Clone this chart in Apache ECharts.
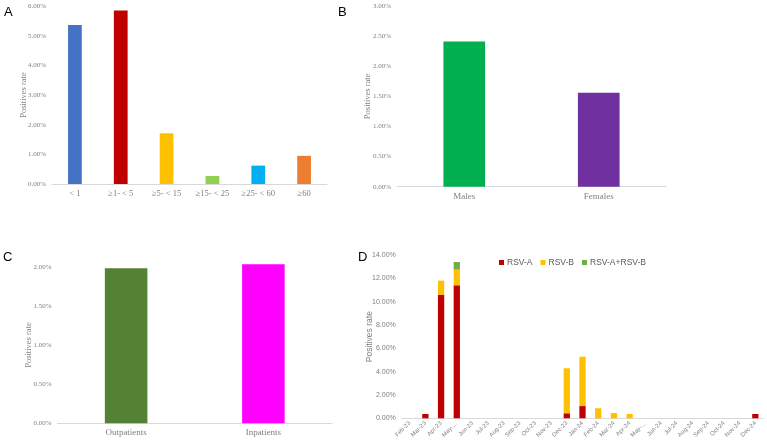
<!DOCTYPE html>
<html><head><meta charset="utf-8">
<script src="https://cdn.jsdelivr.net/npm/echarts@6/dist/echarts.min.js"></script>
<style>html,body{margin:0;padding:0;background:#fff}#c{width:767px;height:444px}</style>
</head><body><div id="c"></div>
<script>
// Panel A: age groups
const ageCats = ['< 1', '≥1- < 5', '≥5- < 15', '≥15- < 25', '≥25- < 60', '≥60'];
const ageRates = [5.36, 5.85, 1.71, 0.27, 0.62, 0.95];
const ageColors = ['#4472C4', '#C00000', '#FFC000', '#92D050', '#00B0F0', '#ED7D31'];
// Panel B: sex
const sexCats = ['Males', 'Females'];
const sexRates = [2.41, 1.56];
const sexColors = ['#00B050', '#7030A0'];
// Panel C: patient type
const patCats = ['Outpatients', 'Inpatients'];
const patRates = [1.98, 2.03];
const patColors = ['#548235', '#FF00FF'];
// Panel D: monthly
const months = ['Feb-23','Mar-23','Apr-23','May-…','Jun-23','Jul-23','Aug-23','Sep-23','Oct-23','Nov-23','Dec-23',
  'Jan-24','Feb-24','Mar-24','Apr-24','May-…','Jun-24','Jul-24','Aug-24','Sep-24','Oct-24','Nov-24','Dec-24'];
const rsvA  = [0, 0.37, 10.6, 11.4, 0,0,0,0,0,0, 0.43, 1.05, 0, 0, 0, 0,0,0,0,0,0,0, 0.37];
const rsvB  = [0, 0, 1.2, 1.35, 0,0,0,0,0,0, 3.86, 4.23, 0.86, 0.45, 0.37, 0,0,0,0,0,0,0, 0];
const rsvAB = [0, 0, 0, 0.65, 0,0,0,0,0,0, 0, 0, 0, 0, 0, 0,0,0,0,0,0,0, 0];
const dSeriesNames = ['RSV-A', 'RSV-B', 'RSV-A+RSV-B'];
const dColors = ['#C00000', '#FFC000', '#70AD47'];

const serif = 'Liberation Serif';
const sans = 'Liberation Sans';
const gray = '#808080';
const lineC = '#D9D9D9';
const pct = v => v.toFixed(2) + '%';

function yAx(grid, max, interval, font, size, gap) {
  return {gridIndex: grid, type: 'value', min: 0, max: max, interval: interval,
    splitLine: {show: false}, axisLine: {show: false}, axisTick: {show: false},
    axisLabel: {formatter: pct, color: gray, fontFamily: font, fontSize: size, margin: 6},
    name: 'Positives rate', nameLocation: 'middle', nameGap: gap, nameMoveOverlap: false,
    nameTextStyle: {color: gray, fontFamily: font, fontSize: 8.5}};
}
function xAx(grid, cats, font, size, extra) {
  return Object.assign({gridIndex: grid, type: 'category', data: cats,
    axisLine: {lineStyle: {color: lineC}}, axisTick: {show: false},
    axisLabel: {color: gray, fontFamily: font, fontSize: size, margin: 5, interval: 0}}, extra || {});
}
function colored(vals, cols) { return vals.map((v, i) => ({value: v, itemStyle: {color: cols[i]}})); }

const chart = echarts.init(document.getElementById('c'));
chart.setOption({
  animation: false,
  title: [
    {text: 'A', left: 4, top: 6}, {text: 'B', left: 338, top: 6},
    {text: 'C', left: 3, top: 251}, {text: 'D', left: 358, top: 251}
  ].map(t => Object.assign(t, {padding: 0, textStyle: {fontFamily: sans, fontSize: 13, fontWeight: 'normal', color: '#000'}})),
  legend: {data: dSeriesNames, left: 499, top: 258, itemWidth: 5, itemHeight: 5, itemGap: 8, icon: 'rect',
    textStyle: {color: '#595959', fontFamily: sans, fontSize: 8.5, padding: [0, 0, 0, -2]}, padding: 0},
  grid: [
    {left: 52, width: 275, top: 6, height: 178},
    {left: 397, width: 269, top: 6, height: 180.7},
    {left: 57.5, width: 274.5, top: 266.7, height: 156.6},
    {left: 401.8, width: 361.4, top: 255, height: 163.3}
  ],
  xAxis: [
    xAx(0, ageCats, serif, 8.5),
    xAx(1, sexCats, serif, 9),
    xAx(2, patCats, serif, 9),
    xAx(3, months, sans, 6, {axisLabel: {color: gray, fontFamily: sans, fontSize: 6, rotate: 45, margin: 4, interval: 0}})
  ],
  yAxis: [
    yAx(0, 6, 1, serif, 7, 24),
    yAx(1, 3, 0.5, serif, 7, 25),
    yAx(2, 2, 0.5, serif, 7, 24),
    yAx(3, 14, 2, sans, 7, 28)
  ],
  series: [
    {type: 'bar', xAxisIndex: 0, yAxisIndex: 0, barWidth: '30%', data: colored(ageRates, ageColors)},
    {type: 'bar', xAxisIndex: 1, yAxisIndex: 1, barWidth: '31%', data: colored(sexRates, sexColors)},
    {type: 'bar', xAxisIndex: 2, yAxisIndex: 2, barWidth: '31%', clip: false, data: colored(patRates, patColors)},
    {type: 'bar', name: dSeriesNames[0], stack: 'd', xAxisIndex: 3, yAxisIndex: 3, barWidth: '40%', itemStyle: {color: dColors[0]}, data: rsvA},
    {type: 'bar', name: dSeriesNames[1], stack: 'd', xAxisIndex: 3, yAxisIndex: 3, barWidth: '40%', itemStyle: {color: dColors[1]}, data: rsvB},
    {type: 'bar', name: dSeriesNames[2], stack: 'd', xAxisIndex: 3, yAxisIndex: 3, barWidth: '40%', itemStyle: {color: dColors[2]}, data: rsvAB}
  ]
});
</script></body></html>
